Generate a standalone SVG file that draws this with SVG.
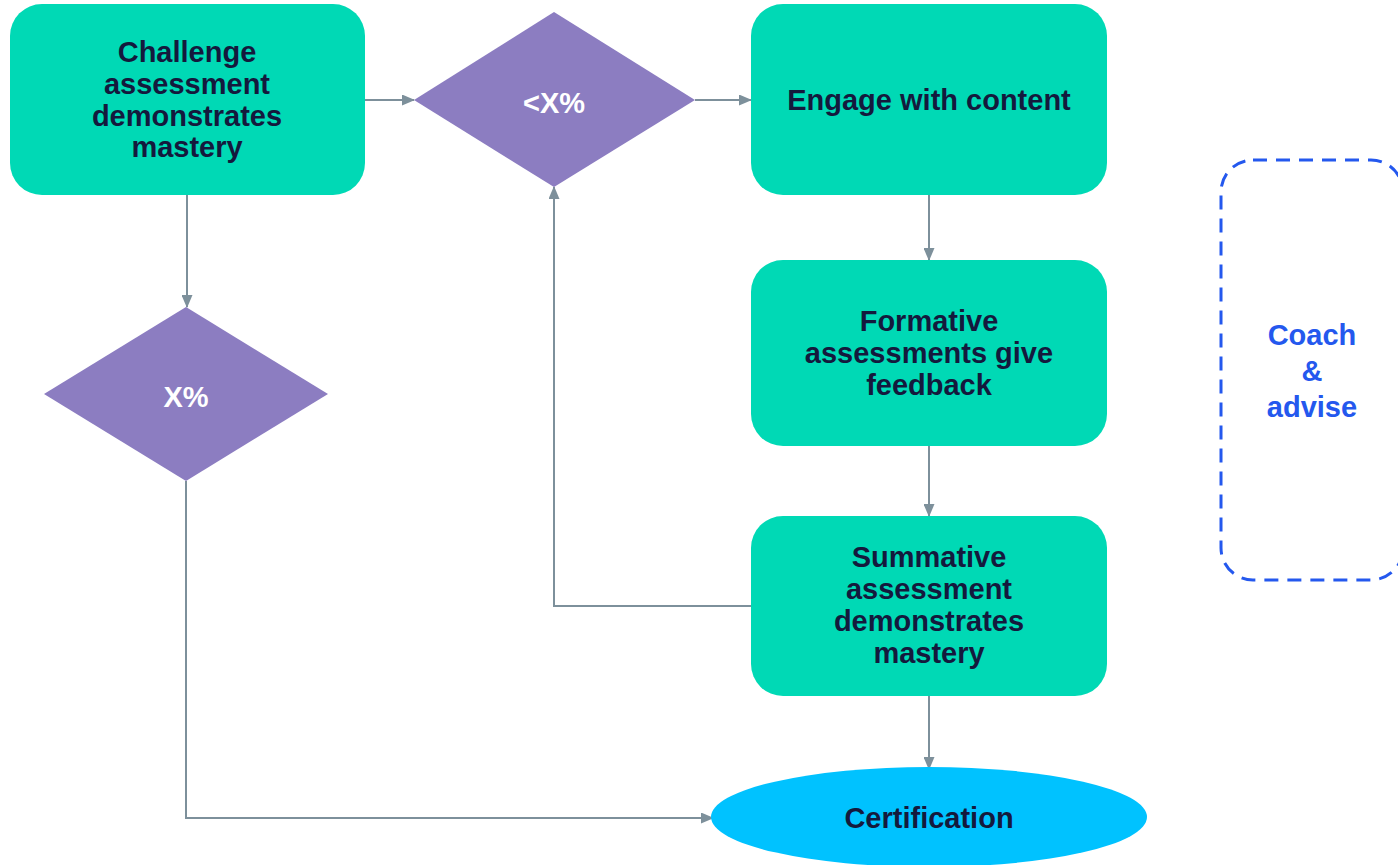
<svg xmlns="http://www.w3.org/2000/svg" width="1398" height="865" viewBox="0 0 1398 865">
<style>
.box{fill:#00d9b5;}
.dia{fill:#8c7dc1;}
.t{font-family:"Liberation Sans",Arial,sans-serif;font-weight:bold;font-size:29px;fill:#14193d;text-anchor:middle;}
.tw{font-family:"Liberation Sans",Arial,sans-serif;font-weight:bold;font-size:29px;fill:#ffffff;text-anchor:middle;}
.tb{font-family:"Liberation Sans",Arial,sans-serif;font-weight:bold;font-size:29px;fill:#2458ee;text-anchor:middle;}
.c{fill:none;stroke:#7d909b;stroke-width:2;marker-end:url(#arr);}
</style>
<defs>
<marker id="arr" markerWidth="13" markerHeight="11" refX="12" refY="5.5" orient="auto" markerUnits="userSpaceOnUse">
<path d="M0,0 L13,5.5 L0,11 Z" fill="#7d909b"/>
</marker>
</defs>
<rect width="1398" height="865" fill="#ffffff"/>
<g id="connectors">
<path class="c" d="M365,100 L414,100"/>
<path class="c" d="M695,100 L751,100"/>
<path class="c" d="M187,195 L187,307"/>
<path class="c" d="M929,195 L929,260"/>
<path class="c" d="M929,446 L929,516"/>
<path class="c" d="M929,696 L929,769"/>
<path class="c" d="M751,606 L554,606 L554,187"/>
<path class="c" d="M186,481 L186,818 L713,818"/>
</g>
<g id="challenge">
<rect class="box" x="10" y="4" width="355" height="191" rx="32"/>
<text class="t" x="187" y="62">Challenge</text>
<text class="t" x="187" y="94">assessment</text>
<text class="t" x="187" y="126">demonstrates</text>
<text class="t" x="187" y="157">mastery</text>
</g>
<g id="lessx">
<polygon class="dia" points="414,100 554,12 695,100 554,187"/>
<text class="tw" x="554" y="113">&lt;X%</text>
</g>
<g id="engage">
<rect class="box" x="751" y="4" width="356" height="191" rx="32"/>
<text class="t" x="929" y="110">Engage with content</text>
</g>
<g id="formative">
<rect class="box" x="751" y="260" width="356" height="186" rx="32"/>
<text class="t" x="929" y="331">Formative</text>
<text class="t" x="929" y="363">assessments give</text>
<text class="t" x="929" y="395">feedback</text>
</g>
<g id="summative">
<rect class="box" x="751" y="516" width="356" height="180" rx="32"/>
<text class="t" x="929" y="567">Summative</text>
<text class="t" x="929" y="599">assessment</text>
<text class="t" x="929" y="631">demonstrates</text>
<text class="t" x="929" y="663">mastery</text>
</g>
<g id="xpct">
<polygon class="dia" points="44,394 186,307 328,394 186,481"/>
<text class="tw" x="186" y="407">X%</text>
</g>
<g id="certification">
<ellipse cx="929" cy="817" rx="218" ry="50" fill="#00c2ff"/>
<text class="t" x="929" y="828">Certification</text>
</g>
<g id="coach">
<rect x="1221" y="160" width="182" height="420" rx="32" fill="none" stroke="#2458ee" stroke-width="3" stroke-dasharray="14,9"/>
<text class="tb" x="1312" y="345">Coach</text>
<text class="tb" x="1312" y="381">&amp;</text>
<text class="tb" x="1312" y="417">advise</text>
</g>
</svg>
